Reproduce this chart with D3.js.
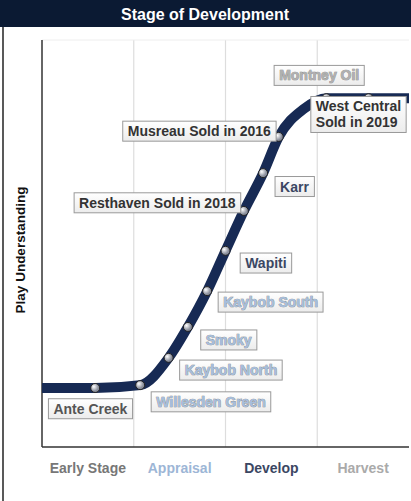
<!DOCTYPE html><html><head><meta charset="utf-8"><script src="https://cdn.jsdelivr.net/npm/d3@7"></script>
<style>body{margin:0;background:#fff}text{font-family:"Liberation Sans",Arial,sans-serif;font-weight:bold}</style></head><body>
<script>
const stages=["Early Stage","Appraisal","Develop","Harvest"];
const stageColors=["#777","#9db6d6","#3b4763","#aaa"];
const curveX=[0,0.58,1.07,1.38,1.59,1.80,2.0,2.2,2.41,2.58,2.85,3.1,3.56,4];
const curveY=[14.5,14.5,15.2,21.9,29.5,38.3,48.2,58,67.3,76.2,83,85.7,85.7,85.7];
const markerX=[0.58,1.07,1.38,1.59,1.80,2.0,2.2,2.41,2.58,3.1,3.56];
const markerY=[14.5,15.2,21.9,29.5,38.3,48.2,58,67.3,76.2,85.7,85.7];
const labels=["Montney Oil","Musreau Sold in 2016","West Central|Sold in 2019","Karr","Resthaven Sold in 2018","Wapiti","Kaybob South","Smoky","Kaybob North","Willesden Green","Ante Creek"];
const labelX=[2.53,0.88,2.93,2.54,0.35,2.16,1.92,1.73,1.50,1.19,0.07];
const labelY=[91.3,77.6,81.7,64,60,45.2,35.6,26.3,18.9,11.1,9.4];
const labelColors=["#b0b0b0","#333","#333","#3b4763","#333","#3b4763","#a6bedc","#a6bedc","#a6bedc","#a6bedc","#555"];
const labelStroke=[true,false,false,false,false,false,true,true,true,true,false];

const W=411,H=501;
const svg=d3.select("body").append("svg").attr("width",W).attr("height",H);
svg.append("rect").attr("x",0).attr("y",0).attr("width",W).attr("height",27).attr("fill","#0b1a33");
svg.append("text").attr("x",205).attr("y",20).attr("text-anchor","middle").attr("fill","#fff").attr("font-size",16).text("Stage of Development");
svg.append("line").attr("x1",3).attr("x2",3).attr("y1",27).attr("y2",H).attr("stroke","#222").attr("stroke-width",1.5);

const x=d3.scaleLinear().domain([0,4]).range([42,409]);
const y=d3.scaleLinear().domain([0,100]).range([447,40]);
const grad=svg.append("defs").append("radialGradient").attr("id","g").attr("cx","35%").attr("cy","35%");
grad.append("stop").attr("offset","0%").attr("stop-color","#fff");
grad.append("stop").attr("offset","100%").attr("stop-color","#8a8f9c");
const lg=svg.select("defs").append("linearGradient").attr("id","lb").attr("x1",0).attr("x2",0).attr("y1",0).attr("y2",1);
lg.append("stop").attr("offset","0%").attr("stop-color","#fff");
lg.append("stop").attr("offset","100%").attr("stop-color","#ececec");

svg.selectAll(".grid").data([1,2,3]).join("line").attr("x1",d=>x(d)).attr("x2",d=>x(d)).attr("y1",y(100)).attr("y2",y(0)).attr("stroke","#ddd").attr("stroke-width",1.2);
svg.append("line").attr("x1",x(0)).attr("x2",x(4)).attr("y1",y(100)).attr("y2",y(100)).attr("stroke","#eee");
svg.append("line").attr("x1",x(0)).attr("x2",x(0)).attr("y1",y(100)).attr("y2",y(0)).attr("stroke","#333").attr("stroke-width",1.5);
svg.append("line").attr("x1",x(0)).attr("x2",x(4)).attr("y1",y(0)).attr("y2",y(0)).attr("stroke","#333").attr("stroke-width",1.5);

svg.selectAll(".st").data(stages).join("text").attr("x",(d,i)=>x(i+0.5)).attr("y",473).attr("text-anchor","middle").attr("font-size",14).attr("fill",(d,i)=>stageColors[i]).text(d=>d);
svg.append("text").attr("transform","translate(25,250) rotate(-90)").attr("text-anchor","middle").attr("font-size",13.5).attr("fill","#111").text("Play Understanding");

const pts=curveX.map((d,i)=>[d,curveY[i]]);
svg.append("path").attr("d",d3.line().x(d=>x(d[0])).y(d=>y(d[1])).curve(d3.curveMonotoneX)(pts)).attr("fill","none").attr("stroke","#172a54").attr("stroke-width",10);
svg.selectAll(".m").data(markerX).join("circle").attr("cx",d=>x(d)).attr("cy",(d,i)=>y(markerY[i])).attr("r",4.5).attr("fill","url(#g)").attr("stroke","#222").attr("stroke-width",1);

labels.forEach((l,i)=>{
  const lines=l.split("|");
  const g=svg.append("g");
  const n=lines.length, lh=16, cy=y(labelY[i]);
  const t=g.append("text").attr("font-size",14).attr("fill",labelColors[i]);
  if(labelStroke[i]) t.attr("stroke","#888").attr("stroke-width",0.7).attr("paint-order","stroke");
  lines.forEach((s,j)=>t.append("tspan").attr("x",x(labelX[i])+5).attr("y",cy-(n-1)*lh/2+j*lh+5).text(s));
  const b=t.node().getBBox();
  const h=b.height+4;
  g.insert("rect","text").attr("x",b.x-5).attr("y",cy-h/2).attr("width",b.width+10).attr("height",h).attr("fill","url(#lb)").attr("stroke","#999").attr("stroke-width",1);
});
</script></body></html>
